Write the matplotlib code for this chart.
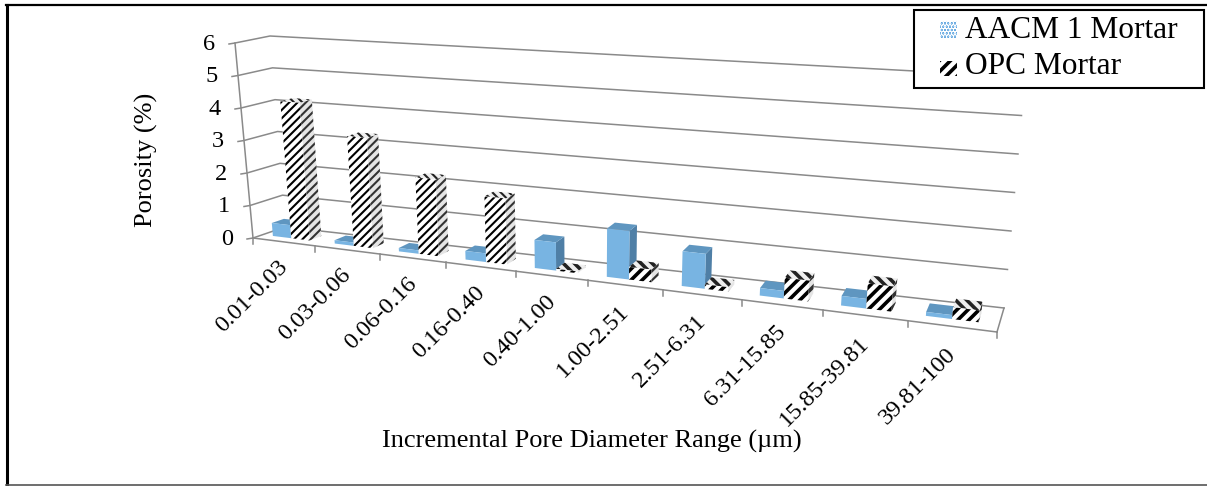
import numpy as np
import matplotlib
matplotlib.use("Agg")
import matplotlib.pyplot as plt
from matplotlib.patches import Polygon, Rectangle

plt.rcParams['font.family'] = ['Liberation Serif', 'DejaVu Serif']

# Porosity per pore diameter range
categories = ['0.01-0.03', '0.03-0.06', '0.06-0.16', '0.16-0.40', '0.40-1.00',
              '1.00-2.51', '2.51-6.31', '6.31-15.85', '15.85-39.81', '39.81-100']
aacm = [0.4, 0.1, 0.1, 0.25, 0.8, 1.35, 0.95, 0.2, 0.25, 0.1]
opc = [4.2, 3.3, 2.25, 1.9, 0.05, 0.35, 0.12, 0.55, 0.65, 0.3]
y_ticks = [0, 1, 2, 3, 4, 5, 6]

# Box corners on the canvas, indexed [right][back][top]
CORNERS = np.array([
    [[(253, 238), (235, 43)], [(285, 227), (270, 36)]],
    [[(997, 332), (1020, 90)], [(1004, 308), (1025, 77)]],
], dtype=float)
PERSP = 1.22
N = len(categories)
VMAX = 6.0
GRID = '#8a8a8a'


def project(c, d, v):
    # c = category position, d = depth 0..1, v = value
    x = c / N
    u = x / (x + PERSP * (1 - x))
    h = v / VMAX
    out = np.zeros(2)
    for i, wu in enumerate((1 - u, u)):
        for j, wd in enumerate((1 - d, d)):
            for k, wh in enumerate((1 - h, h)):
                out += wu * wd * wh * CORNERS[i, j, k]
    return out


def draw_bar(ax, c0, c1, val, front, top, side, z):
    d0, d1 = 0.3, 0.68
    f = [project(c0, d0, 0), project(c1, d0, 0), project(c1, d0, val), project(c0, d0, val)]
    t = [project(c0, d0, val), project(c1, d0, val), project(c1, d1, val), project(c0, d1, val)]
    s = [project(c1, d0, 0), project(c1, d1, 0), project(c1, d1, val), project(c1, d0, val)]
    for pts, style in ((s, side), (t, top), (f, front)):
        ax.add_patch(Polygon(pts, closed=True, lw=0, zorder=z, **style))


fig = plt.figure(figsize=(12.07, 4.86), dpi=100)
ax = fig.add_axes([0, 0, 1, 1])
ax.set_xlim(0, 1207)
ax.set_ylim(486, 0)
ax.axis('off')

# outer frame
ax.plot([6.5, 6.5], [5, 485], color='black', lw=2.2, zorder=1)
ax.plot([6, 1207], [5, 5], color='black', lw=1.6, zorder=1)
ax.plot([6, 1207], [485, 485], color='#555555', lw=1.2, zorder=1)

# walls: back gridlines, side gridlines and value labels
for v in y_ticks:
    p_fl = project(0, 0, v)
    p_bl = project(0, 1, v)
    p_br = project(N, 1, v)
    ax.plot([p_fl[0] - 6, p_fl[0], p_bl[0], p_br[0]],
            [p_fl[1] + 1, p_fl[1], p_bl[1], p_br[1]], color=GRID, lw=1.1, zorder=2)
    ax.text(p_fl[0] - 20, p_fl[1] + 1, str(v), ha='right', va='center', fontsize=17.5)

# value axis and floor front edge
a, b = project(0, 0, 0), project(0, 0, VMAX)
ax.plot([a[0], b[0]], [a[1], b[1]], color=GRID, lw=1.1, zorder=2)
a, b = project(0, 0, 0), project(N, 0, 0)
ax.plot([a[0], b[0]], [a[1], b[1]], color=GRID, lw=1.1, zorder=2)
a, b = project(N, 0, 0), project(N, 1, 0)
ax.plot([a[0], b[0]], [a[1], b[1]], color=GRID, lw=1.1, zorder=2)

for i in range(N + 1):
    p = project(i, 0, 0)
    ax.plot([p[0], p[0]], [p[1], p[1] + 6], color=GRID, lw=1.1, zorder=2)

blue_style = (dict(facecolor='#78b4e2'), dict(facecolor='#5f96c0'), dict(facecolor='#4f7fa6'))

for i in range(N):
    # short bars carry a coarser, heavier stripe
    coarse = opc[i] < 1
    plt.rcParams['hatch.linewidth'] = 2.6 if coarse else 1.5
    fh = '///' if coarse else '////'
    th = '\\\\\\' if coarse else '\\\\\\\\'
    opc_style = (dict(facecolor='white', edgecolor='black', hatch=fh),
                 dict(facecolor='#eeeeee', edgecolor='#222222', hatch=th),
                 dict(facecolor='#e5e5e5', edgecolor='#333333', hatch=fh))
    draw_bar(ax, i + 0.17, i + 0.47, aacm[i], *blue_style, z=3 + i)
    draw_bar(ax, i + 0.47, i + 0.77, opc[i], *opc_style, z=3.5 + i)

    p = project(i + 0.5, 0, 0)
    ax.text(p[0] + 1 - 0.1 * i, p[1] + 22 + 0.3 * i, categories[i], rotation=45, rotation_mode='anchor',
            ha='right', va='center', fontsize=17.5)

ax.text(592, 441, 'Incremental Pore Diameter Range (µm)', ha='center', va='center', fontsize=19)
ax.text(146, 160, 'Porosity (%)', rotation=90, ha='center', va='center', fontsize=19)

# legend box
plt.rcParams['hatch.linewidth'] = 2.6
ax.add_patch(Rectangle((914, 10), 290, 78, facecolor='white', edgecolor='black', lw=1.5, zorder=20))
ax.add_patch(Rectangle((940, 21), 17, 17, facecolor='#5ea5e0', edgecolor='white', hatch='.....', lw=0, zorder=21))
ax.add_patch(Rectangle((940, 61), 17, 15, facecolor='white', edgecolor='black', hatch='///', lw=0, zorder=21))
ax.text(965, 30, 'AACM 1 Mortar', ha='left', va='center', fontsize=22.6, zorder=21)
ax.text(965, 67, 'OPC Mortar', ha='left', va='center', fontsize=22.6, zorder=21)

fig.savefig('out.png', dpi=100)
